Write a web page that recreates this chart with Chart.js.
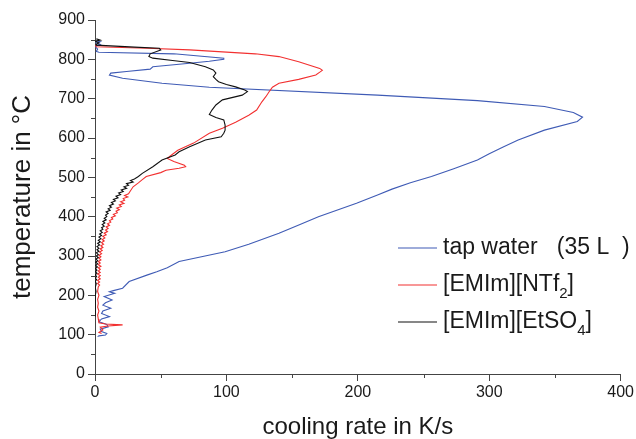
<!DOCTYPE html>
<html>
<head>
<meta charset="utf-8">
<script src="https://cdn.jsdelivr.net/npm/chart.js@4.4.1/dist/chart.umd.min.js"></script>
<style>
body { margin: 0; background: #fff; }
</style>
</head>
<body>
<canvas id="canvas" width="636" height="439"></canvas>
<script>
// tap water (35 L)
var waterTemp = [848, 845, 842, 838, 833, 826, 820, 818, 814, 803, 800, 795, 790, 781, 775, 769, 765, 760, 752, 739, 729, 709, 695, 680, 665, 653, 642, 620, 595, 578, 560, 544, 522, 502, 486, 470, 455, 434, 400, 380, 358, 330, 311, 286, 270, 260, 252, 235, 218, 212, 209, 205, 197, 188, 181, 175, 167, 160, 154, 146, 140, 133, 126, 120, 114, 108, 103, 99, 97, 95];
var waterRate = [1, 4, 1, 4, 0, 2, 1, 3, 60, 98, 98, 87, 72, 44, 42, 24, 12, 11, 21, 51, 87, 215, 291, 342, 364, 371, 367, 342, 322, 311, 300, 291, 273, 256, 240, 226, 215, 199, 170, 156, 140, 117, 99, 64, 55, 47, 40, 26, 21, 14, 11, 15, 7, 13, 8, 6, 12, 6, 5, 11, 5, 3, 9, 10, 4, 5, 9, 8, 3, 2];

// [EMIm][NTf2]
var ntfTemp = [836, 832, 828, 824, 814, 807, 794, 777, 772, 760, 749, 739, 729, 720, 705, 692, 671, 658, 640, 625, 612, 587, 569, 556, 548, 540, 531, 527, 523, 518, 512, 502, 494, 486, 476, 466,
    458, 454, 450, 446, 442, 438, 434, 430, 426, 422, 418, 414, 410, 406, 402, 398, 394, 390, 386, 382, 378, 374, 370, 366, 362, 358, 354, 350, 346, 342, 338, 334, 330, 326, 322, 318, 314, 310, 306, 302, 298, 294, 290, 286, 282, 278, 274, 270, 266, 262, 258, 254, 250, 246, 242, 238, 234, 230, 226, 222,
    210, 200, 190, 180, 170, 160, 150, 140, 130, 127, 125, 122, 119, 112, 106, 103];
var ntfRate = [0, 1, 40, 72, 122, 140, 155, 171, 173, 168, 155, 140, 135, 133, 130, 127, 123, 117, 107, 97, 87, 75, 63, 58, 55, 60, 68, 69, 64, 54, 50, 39, 36, 33, 29, 27,
    25.5, 22.5, 25, 21.5, 22.5, 19.5, 22, 18.5, 20, 16.5, 18.5, 16, 17, 14, 15.5, 12.5, 13.5, 11, 12, 9.5, 11, 8.5, 10, 8, 9.5, 7, 8.5, 6, 7.5, 5.5, 7, 5, 6.5, 4.5, 6, 4, 5.5, 3.5, 5, 3, 4.5, 3, 4.5, 2.5, 4, 2.5, 4.5, 2.5, 4, 2.5, 4, 2, 4, 2.5, 4, 2, 3.5, 2, 3.5, 2.5,
    2, 3, 2, 2.5, 2, 3, 2, 2.5, 3, 8, 21, 10, 4, 6, 3, 5];

// [EMIm][EtSO4]
var etsTemp = [852, 849, 846, 842, 838, 836, 831, 828, 824, 814, 807, 803, 797, 792, 781, 773, 765, 756, 749, 743, 736, 730, 722, 718, 709, 697, 684, 671, 660, 652, 646, 633, 620, 612, 603, 595, 578, 565, 557, 544, 527, 510, 502,
    496, 492, 488, 484, 480, 476, 472, 468, 464, 460, 456, 452, 448, 444, 440, 436, 432, 428, 424, 420, 416, 412, 408, 404, 400, 396, 392, 388, 384, 380, 376, 372, 368, 364, 360, 356, 352, 348, 344, 340, 336, 332, 328, 324, 320, 316, 312, 308, 304, 300, 296, 292, 288, 284, 280, 276, 272, 268, 264, 260, 256, 252, 248, 244, 240, 235, 230,
    220, 210, 200, 185, 170, 160, 146];
var etsRate = [1, 4, 0, 3, 1, 1, 30, 49, 50, 42, 41, 44, 59, 72, 84, 90, 92, 90, 92, 94, 100, 107, 114, 116, 112, 97, 92, 89, 87, 92, 98, 99, 99, 98, 96, 84, 72, 64, 61, 51, 44, 36, 33,
    30, 27, 29, 24, 25.5, 22, 24, 20, 21.5, 18, 19.5, 16, 17.5, 14, 15.5, 12.5, 14, 11, 12.5, 10, 11.5, 8.5, 10, 8, 9, 7, 8.5, 6, 7.5, 5.5, 7, 5, 6, 4, 5.5, 3.5, 5, 3, 4.5, 2.5, 4, 2, 3.5, 1.5, 3, 1.5, 3, 1, 2.5, 1, 2.5, 0.8, 2, 0.5, 2, 0.5, 1.8, 0.3, 1.5, 0.3, 1.5, 0.2, 1.2, 0.2, 1.2, 0.2, 1,
    0.2, 0.8, 0.2, 0.5, 0.1, 0.4, 0];

var legendLabels = ['tap water   (35 L  )', '[EMIm][NTf_2]', '[EMIm][EtSO_4]'];
var xMinor = [50, 150, 250, 350];
var yMinor = [50, 150, 250, 350, 450, 550, 650, 750, 850];

var axisColor = '#444';
var textColor = '#1a1a1a';
var fontFamily = '"Liberation Sans", Arial, sans-serif';

function points(temps, rates) {
    return temps.map(function(t, i) {
        return { x: rates[i], y: t };
    });
}

var minorTicks = {
    id: 'minorTicks',
    afterDraw: function(chart) {
        var ctx = chart.ctx;
        var xs = chart.scales.x, ys = chart.scales.y;
        ctx.save();
        ctx.strokeStyle = axisColor;
        ctx.lineWidth = 1;
        ctx.beginPath();
        xMinor.forEach(function(v) {
            var px = Math.round(xs.getPixelForValue(v)) + 0.5;
            ctx.moveTo(px, ys.bottom);
            ctx.lineTo(px, ys.bottom + 4);
        });
        yMinor.forEach(function(v) {
            var py = Math.round(ys.getPixelForValue(v)) + 0.5;
            ctx.moveTo(xs.left, py);
            ctx.lineTo(xs.left - 4, py);
        });
        ctx.stroke();
        ctx.restore();
    }
};

var insideLegend = {
    id: 'insideLegend',
    afterDraw: function(chart) {
        var ctx = chart.ctx;
        ctx.save();
        ctx.textBaseline = 'middle';
        ctx.fillStyle = textColor;
        chart.data.datasets.forEach(function(ds, i) {
            var y = 248 + i * 37;
            ctx.strokeStyle = ds.borderColor;
            ctx.lineWidth = 1.2;
            ctx.beginPath();
            ctx.moveTo(398, y);
            ctx.lineTo(437, y);
            ctx.stroke();
            var x = 443;
            legendLabels[i].split(/(_\d)/).forEach(function(part) {
                if (!part) return;
                if (part[0] === '_') {
                    ctx.font = '15px ' + fontFamily;
                    ctx.fillText(part.slice(1), x, y + 9);
                    x += ctx.measureText(part.slice(1)).width;
                } else {
                    ctx.font = '23px ' + fontFamily;
                    ctx.fillText(part, x, y);
                    x += ctx.measureText(part).width;
                }
            });
        });
        ctx.restore();
    }
};

var config = {
    type: 'scatter',
    data: {
        datasets: [{
            label: 'tap water (35 L)',
            data: points(waterTemp, waterRate),
            borderColor: '#3f5bb5',
            order: 3
        }, {
            label: '[EMIm][NTf2]',
            data: points(ntfTemp, ntfRate),
            borderColor: '#f23030',
            order: 2
        }, {
            label: '[EMIm][EtSO4]',
            data: points(etsTemp, etsRate),
            borderColor: '#111111',
            order: 1
        }]
    },
    options: {
        responsive: false,
        animation: false,
        devicePixelRatio: 1,
        showLine: true,
        elements: {
            point: { radius: 0 },
            line: { borderWidth: 1.1, tension: 0, fill: false }
        },
        layout: {
            padding: { left: 0, right: 13, top: 20, bottom: 0 }
        },
        plugins: {
            legend: { display: false },
            tooltip: { enabled: false }
        },
        scales: {
            x: {
                type: 'linear',
                min: 0,
                max: 400,
                afterFit: function(scale) { scale.height = 65; },
                ticks: {
                    stepSize: 100,
                    padding: 2,
                    maxRotation: 0,
                    color: textColor,
                    font: { family: fontFamily, size: 16 }
                },
                grid: {
                    drawOnChartArea: false,
                    tickLength: 7,
                    tickColor: axisColor
                },
                border: { display: true, color: axisColor, width: 1 },
                title: {
                    display: true,
                    text: 'cooling rate in K/s',
                    color: textColor,
                    padding: 0,
                    font: { family: fontFamily, size: 24, lineHeight: 1 }
                }
            },
            y: {
                type: 'linear',
                min: 0,
                max: 900,
                afterFit: function(scale) { scale.width = 95; },
                ticks: {
                    stepSize: 100,
                    padding: 3,
                    color: textColor,
                    font: { family: fontFamily, size: 16 }
                },
                grid: {
                    drawOnChartArea: false,
                    tickLength: 7,
                    tickColor: axisColor
                },
                border: { display: true, color: axisColor, width: 1 },
                title: {
                    display: true,
                    text: 'temperature in °C',
                    color: textColor,
                    padding: { top: 10, bottom: 0 },
                    font: { family: fontFamily, size: 26, lineHeight: 1 }
                }
            }
        }
    },
    plugins: [minorTicks, insideLegend]
};

window.myChart = new Chart(document.getElementById('canvas'), config);
</script>
</body>
</html>
